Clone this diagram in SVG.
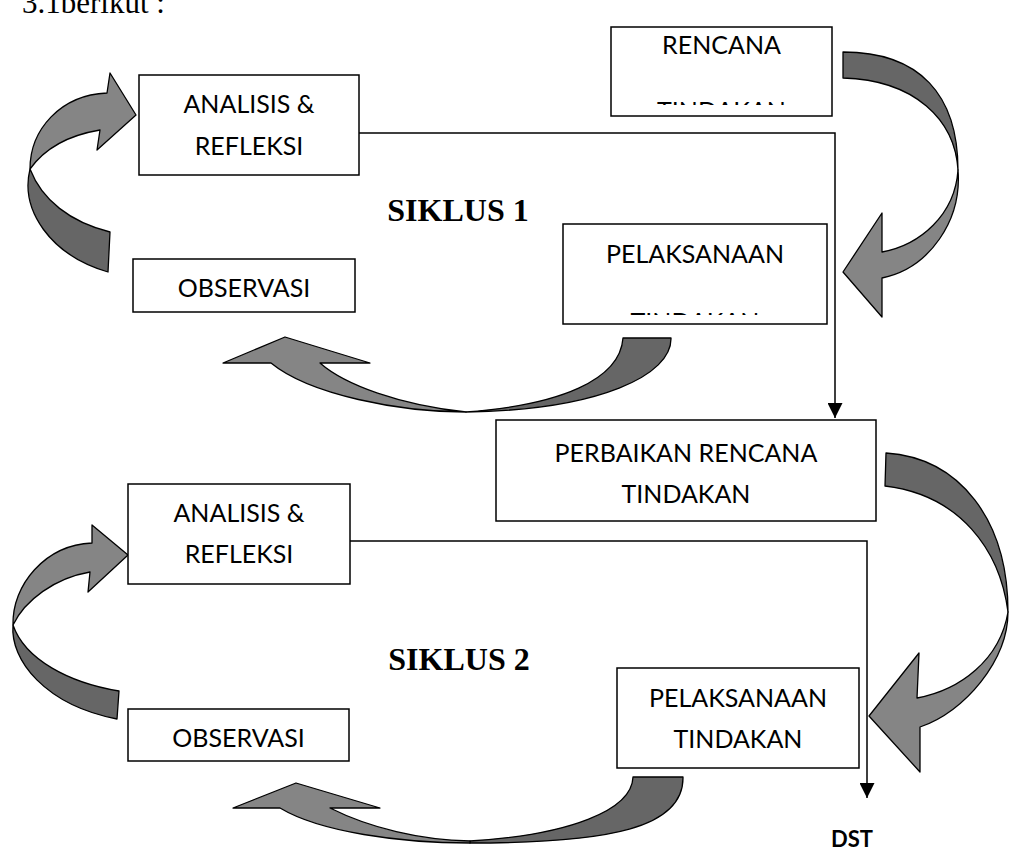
<svg xmlns="http://www.w3.org/2000/svg" width="1011" height="852" viewBox="0 0 1011 852">
<style>
.box{fill:#fff;stroke:#000;stroke-width:1.5}
.lbl{font-family:Lato,"Liberation Sans",sans-serif;font-size:25px;text-anchor:middle;fill:#000}
.dk{fill:#666;stroke:#000;stroke-width:1.3;stroke-linejoin:round}
.lt{fill:#858585;stroke:#000;stroke-width:1.3;stroke-linejoin:round}
.conn{fill:none;stroke:#000;stroke-width:1.5}
.sik{font-family:"Liberation Serif",serif;font-weight:bold;font-size:32px;text-anchor:middle}
</style>
<defs>
<marker id="ah" markerUnits="userSpaceOnUse" markerWidth="15" markerHeight="15" refX="15" refY="7.5" orient="auto">
<path d="M0,0 L15,7.5 L0,15 Z" fill="#000"/>
</marker>
<clipPath id="clipR"><rect x="611" y="27" width="221" height="78"/></clipPath>
<clipPath id="clipP"><rect x="563" y="224" width="264" height="91"/></clipPath>
</defs>
<rect width="1011" height="852" fill="#fff"/>
<text x="22" y="13" font-family="Liberation Serif,serif" font-size="31">3.1berikut :</text>

<g id="block-arrows">
<g id="arrowA">
<path class="dk" d="M30,169 C20,210 50,255 108,272 L110,232 C70,222 42,200 30,169 Z"/>
<path class="lt" d="M30,169 C30,130 60,95 107,93 L110,73 L136,115 L97,150 L100,130 C70,135 45,148 30,169 Z"/>
</g>
<g id="arrowB">
<path class="dk" d="M843,52 C920,52 958,95 958,170 C955,120 915,80 843,78 Z"/>
<path class="lt" d="M958,170 C962,220 930,268 882,278 L882,317 L843,272 L882,213 L882,252 C920,245 955,215 958,170 Z"/>
</g>
<g id="arrowC">
<path class="dk" d="M623,338 L671,338 C672,375 600,410 466,412 C560,405 620,380 623,338 Z"/>
<path class="lt" d="M466,412 C400,412 310,395 271,363 L223,363 L285,337 L370,363 L320,363 C345,385 400,405 466,412 Z"/>
</g>
<g id="arrowD">
<path class="dk" d="M886,453 C960,458 1008,520 1008,612 C1000,550 960,495 885,486 Z"/>
<path class="lt" d="M1008,612 C1008,660 965,712 920,727 L920,772 L869,716 L919,653 L917,698 C960,690 1000,660 1008,612 Z"/>
</g>
<g id="arrowE">
<path class="dk" d="M119,691 C70,683 25,660 13,625 C10,660 45,705 117,719 Z"/>
<path class="lt" d="M13,625 C12,585 45,545 92,543 L92,525 L128,555 L88,592 L90,572 C55,578 25,600 13,625 Z"/>
</g>
<g id="arrowF">
<path class="dk" d="M470,843 C610,843 684,828 683,777 L633,777 C632,810 570,835 470,841 Z"/>
<path class="lt" d="M470,843 C400,843 320,832 280,808 L233,808 L296,783 L380,808 L330,808 C370,828 420,840 470,841 Z"/>
</g>
</g>

<g id="connectors">
<path class="conn" d="M359,133 H835 V418" marker-end="url(#ah)"/>
<path class="conn" d="M350,541 H867 V798" marker-end="url(#ah)"/>
</g>

<g id="analisis1">
<rect class="box" x="139" y="75" width="220" height="100"/>
<text class="lbl" x="249" y="113">ANALISIS &amp;</text>
<text class="lbl" x="249" y="155">REFLEKSI</text>
</g>
<g id="rencana">
<rect class="box" x="611" y="27" width="221" height="89"/>
<text class="lbl" x="721.5" y="54">RENCANA</text>
<text class="lbl" x="721.5" y="120" clip-path="url(#clipR)">TINDAKAN</text>
</g>
<g id="siklus1"><text class="sik" x="458" y="221">SIKLUS 1</text></g>
<g id="pelaksanaan1">
<rect class="box" x="563" y="224" width="264" height="100"/>
<text class="lbl" x="695" y="263">PELAKSANAAN</text>
<text class="lbl" x="695" y="331" clip-path="url(#clipP)">TINDAKAN</text>
</g>
<g id="observasi1">
<rect class="box" x="133" y="259" width="222" height="53"/>
<text class="lbl" x="244" y="297">OBSERVASI</text>
</g>
<g id="perbaikan">
<rect class="box" x="496" y="420" width="380" height="101"/>
<text class="lbl" x="686" y="462">PERBAIKAN RENCANA</text>
<text class="lbl" x="686" y="503">TINDAKAN</text>
</g>
<g id="analisis2">
<rect class="box" x="128" y="484" width="222" height="100"/>
<text class="lbl" x="239" y="522">ANALISIS &amp;</text>
<text class="lbl" x="239" y="563">REFLEKSI</text>
</g>
<g id="siklus2"><text class="sik" x="459" y="670">SIKLUS 2</text></g>
<g id="pelaksanaan2">
<rect class="box" x="617" y="668" width="242" height="100"/>
<text class="lbl" x="738" y="707">PELAKSANAAN</text>
<text class="lbl" x="738" y="748">TINDAKAN</text>
</g>
<g id="observasi2">
<rect class="box" x="128" y="709" width="221" height="52"/>
<text class="lbl" x="238.5" y="747">OBSERVASI</text>
</g>
<g id="dst"><text x="852" y="847" font-family="Lato,'Liberation Sans',sans-serif" font-weight="bold" font-size="22" text-anchor="middle">DST</text></g>
</svg>
